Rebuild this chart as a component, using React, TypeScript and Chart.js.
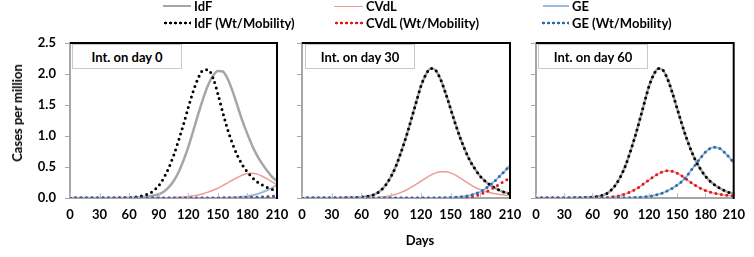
import React, { useEffect, useRef } from 'react';
import { Chart, registerables } from 'chart.js';

Chart.register(...registerables);

// ---------- data ----------
const days = [0, 5, 10, 15, 20, 25, 30, 35, 40, 45, 50, 55, 60, 65, 70, 75, 80, 85, 90, 95, 100, 105, 110, 115, 120, 125, 130, 135, 140, 145, 150, 155, 160, 165, 170, 175, 180, 185, 190, 195, 200, 205, 210];
const xTickValues = [0, 30, 60, 90, 120, 150, 180, 210];
const yTickValues = [0, 0.5, 1.0, 1.5, 2.0, 2.5];

const idfDay0 = [0, 0, 0, 0, 0, 0, 0, 0, 0.001, 0.001, 0.002, 0.002, 0.003, 0.006, 0.01, 0.015, 0.025, 0.04, 0.06, 0.1, 0.17, 0.27, 0.41, 0.6, 0.82, 1.08, 1.35, 1.6, 1.82, 1.97, 2.05, 2.04, 1.92, 1.72, 1.48, 1.24, 1.03, 0.84, 0.68, 0.55, 0.44, 0.34, 0.27];
const idfWtDay0 = [0, 0, 0, 0, 0, 0, 0, 0.001, 0.001, 0.002, 0.003, 0.005, 0.008, 0.014, 0.024, 0.04, 0.07, 0.12, 0.2, 0.32, 0.48, 0.68, 0.92, 1.18, 1.46, 1.72, 1.93, 2.06, 2.07, 1.94, 1.68, 1.38, 1.1, 0.87, 0.68, 0.53, 0.42, 0.33, 0.26, 0.21, 0.17, 0.14, 0.12];
const cvdlDay0 = [0, 0, 0, 0, 0, 0, 0, 0, 0, 0, 0, 0, 0, 0, 0, 0, 0.001, 0.002, 0.003, 0.004, 0.005, 0.008, 0.012, 0.018, 0.025, 0.035, 0.05, 0.07, 0.095, 0.125, 0.16, 0.2, 0.245, 0.29, 0.33, 0.37, 0.395, 0.4, 0.385, 0.35, 0.31, 0.26, 0.21];
const cvdlWtDay0 = [0, 0, 0, 0, 0, 0, 0, 0, 0, 0, 0, 0, 0, 0, 0, 0, 0, 0, 0, 0, 0, 0, 0, 0, 0, 0, 0, 0, 0, 0, 0.002, 0.003, 0.004, 0.005, 0.006, 0.008, 0.01, 0.012, 0.014, 0.017, 0.02, 0.025, 0.03];
const geDay0 = [0, 0, 0, 0, 0, 0, 0, 0, 0, 0, 0, 0, 0, 0, 0, 0, 0, 0, 0, 0, 0, 0, 0, 0, 0, 0, 0, 0, 0, 0, 0, 0.002, 0.004, 0.007, 0.012, 0.02, 0.03, 0.045, 0.065, 0.09, 0.125, 0.165, 0.21];
const geWtDay0 = [0, 0, 0, 0, 0, 0, 0, 0, 0, 0, 0, 0, 0, 0, 0, 0, 0, 0, 0, 0, 0, 0, 0, 0, 0, 0, 0, 0, 0, 0, 0, 0, 0, 0, 0, 0.003, 0.005, 0.007, 0.01, 0.014, 0.019, 0.026, 0.035];

const idfLater = [0, 0, 0, 0, 0, 0, 0.001, 0.001, 0.002, 0.003, 0.005, 0.008, 0.014, 0.024, 0.04, 0.07, 0.13, 0.22, 0.35, 0.52, 0.74, 0.98, 1.25, 1.53, 1.8, 1.99, 2.09, 2.06, 1.91, 1.69, 1.44, 1.19, 0.96, 0.76, 0.59, 0.46, 0.35, 0.27, 0.21, 0.16, 0.12, 0.09, 0.07];

const cvdlDay30 = [0, 0, 0, 0, 0, 0, 0, 0, 0, 0, 0, 0, 0, 0, 0.005, 0.009, 0.015, 0.025, 0.04, 0.062, 0.09, 0.125, 0.17, 0.22, 0.27, 0.32, 0.37, 0.405, 0.425, 0.425, 0.405, 0.37, 0.32, 0.265, 0.215, 0.17, 0.135, 0.105, 0.085, 0.068, 0.056, 0.046, 0.038];
const cvdlWtDay30 = [0, 0, 0, 0, 0, 0, 0, 0, 0, 0, 0, 0, 0, 0, 0, 0, 0, 0, 0, 0, 0, 0, 0, 0, 0, 0, 0, 0, 0, 0, 0.003, 0.004, 0.006, 0.01, 0.017, 0.032, 0.058, 0.093, 0.133, 0.178, 0.228, 0.278, 0.33];
const geDay30 = [0, 0, 0, 0, 0, 0, 0, 0, 0, 0, 0, 0, 0, 0, 0, 0, 0, 0, 0, 0, 0, 0, 0, 0, 0, 0, 0, 0, 0.003, 0.005, 0.008, 0.013, 0.02, 0.03, 0.045, 0.07, 0.1, 0.15, 0.21, 0.28, 0.36, 0.44, 0.53];

const cvdlDay60 = [0, 0, 0, 0, 0, 0, 0, 0, 0, 0, 0, 0, 0, 0, 0.005, 0.009, 0.016, 0.027, 0.043, 0.066, 0.096, 0.135, 0.18, 0.235, 0.29, 0.345, 0.39, 0.425, 0.44, 0.43, 0.4, 0.355, 0.3, 0.245, 0.195, 0.155, 0.12, 0.095, 0.075, 0.06, 0.048, 0.04, 0.033];
const geDay60 = [0, 0, 0, 0, 0, 0, 0, 0, 0, 0, 0, 0, 0, 0, 0, 0, 0.001, 0.002, 0.003, 0.004, 0.005, 0.008, 0.012, 0.018, 0.027, 0.04, 0.06, 0.085, 0.12, 0.16, 0.21, 0.27, 0.35, 0.45, 0.55, 0.65, 0.74, 0.8, 0.82, 0.8, 0.74, 0.66, 0.57];

const panelTitles = ['Int. on day 0', 'Int. on day 30', 'Int. on day 60'];
const seriesNames = ['IdF', 'IdF (Wt/Mobility)', 'CVdL', 'CVdL (Wt/Mobility)', 'GE', 'GE (Wt/Mobility)'];
const yAxisTitle = 'Cases per million';
const xAxisTitle = 'Days';

const panelSeries = [
  [idfDay0, idfWtDay0, cvdlDay0, cvdlWtDay0, geDay0, geWtDay0],
  [idfLater, idfLater, cvdlDay30, cvdlWtDay30, geDay30, geDay30],
  [idfLater, idfLater, cvdlDay60, cvdlDay60, geDay60, geDay60],
];

// ---------- styles ----------
const FONT = 'Lato, "Open Sans", sans-serif';
const seriesStyle = [
  { color: '#a6a6a6', width: 2.5, dotted: false, order: 5 },
  { color: '#000000', width: 3, dotted: true, order: 2 },
  { color: '#f09a9a', width: 1.5, dotted: false, order: 4 },
  { color: '#e01818', width: 3, dotted: true, order: 1 },
  { color: '#9dbadc', width: 2, dotted: false, order: 3 },
  { color: '#2f6aa8', width: 3, dotted: true, order: 0 },
];

const GEOM = [
  { padL: 0, axisW: 70, padR: 477, boxL: 72, boxW: 110 },
  { padL: 290, axisW: 12, padR: 244, boxL: 305, boxW: 110 },
  { padL: 524, axisW: 12, padR: 11, boxL: 538, boxW: 110 },
];

const framePlugin = {
  id: 'frame',
  afterDatasetsDraw(chart: any) {
    const { ctx, chartArea, scales } = chart;
    const { left, right, top, bottom } = chartArea;
    ctx.save();
    ctx.strokeStyle = '#c0c0c0';
    ctx.lineWidth = 1;
    scales.x.ticks.forEach((_t: any, i: number) => {
      const px = Math.round(scales.x.getPixelForTick(i)) + 0.5;
      ctx.beginPath();
      ctx.moveTo(px, bottom - 1);
      ctx.lineTo(px, bottom - 5);
      ctx.stroke();
    });
    ctx.strokeStyle = '#000';
    ctx.lineWidth = 2;
    ctx.beginPath();
    ctx.moveTo(left, top);
    ctx.lineTo(right, top);
    ctx.lineTo(right, bottom + 1);
    ctx.stroke();
    ctx.restore();
  },
};

function Panel({ idx }: { idx: number }) {
  const ref = useRef<HTMLCanvasElement>(null);
  useEffect(() => {
    const g = GEOM[idx];
    const tickFont = { family: FONT, weight: 'bold' as const, size: 13 };
    const datasets = panelSeries[idx].map((arr, k) => {
      const s = seriesStyle[k];
      return {
        label: seriesNames[k],
        data: days.map((d, i) => ({ x: d, y: arr[i] })),
        borderColor: s.color,
        backgroundColor: s.color,
        borderWidth: s.width,
        borderDash: s.dotted ? [0, 5.5] : [],
        borderCapStyle: s.dotted ? 'round' : 'butt',
        pointRadius: 0,
        fill: false,
        cubicInterpolationMode: 'monotone',
        order: s.order,
      };
    });
    const chart = new Chart(ref.current!, {
      type: 'line',
      data: { datasets } as any,
      options: {
        responsive: false,
        maintainAspectRatio: false,
        animation: false,
        devicePixelRatio: 1,
        layout: { padding: { left: g.padL, right: g.padR, top: 43, bottom: 0 } },
        plugins: { legend: { display: false }, tooltip: { enabled: false } },
        scales: {
          x: {
            type: 'linear',
            min: 0,
            max: 210,
            afterBuildTicks: (s: any) => { s.ticks = xTickValues.map((v) => ({ value: v })); },
            afterFit: (s: any) => { s.height = 59; },
            ticks: { font: tickFont, color: '#000', padding: 9, maxRotation: 0, autoSkip: false },
            grid: { display: true, drawOnChartArea: false, drawTicks: false },
            border: { color: '#a6a6a6', width: 2 },
          },
          y: {
            type: 'linear',
            min: 0,
            max: 2.5,
            afterBuildTicks: (s: any) => { s.ticks = yTickValues.map((v) => ({ value: v })); },
            afterFit: (s: any) => { s.width = g.axisW; },
            ticks: { display: idx === 0, font: tickFont, color: '#000', padding: 9, callback: (v: any) => Number(v).toFixed(1) },
            grid: { display: true, drawOnChartArea: false, drawTicks: true, tickLength: 5, color: '#a6a6a6', lineWidth: 1 },
            border: { color: '#a6a6a6', width: 2 },
          },
        },
      } as any,
      plugins: [framePlugin],
    });
    return () => chart.destroy();
  }, [idx]);
  return <canvas ref={ref} width={754} height={257} style={{ position: 'absolute', left: 0, top: 0 }} />;
}

const legendLayout = [
  { x: 163, y: 6, textX: 194 },
  { x: 163, y: 22.5, textX: 194 },
  { x: 334, y: 6, textX: 366 },
  { x: 334, y: 22.5, textX: 366 },
  { x: 543, y: 6, textX: 572 },
  { x: 541, y: 22.5, textX: 572 },
];

function Swatch({ k, w }: { k: number; w: number }) {
  const s = seriesStyle[k];
  if (s.dotted) {
    return (
      <div
        style={{
          width: w,
          height: 4,
          backgroundImage: `radial-gradient(circle, ${s.color} 1.2px, transparent 1.7px)`,
          backgroundSize: '5px 4px',
        }}
      />
    );
  }
  return <div style={{ width: w, height: 0, borderTop: `${s.width}px solid ${s.color}` }} />;
}

export default function App() {
  return (
    <div style={{ position: 'fixed', left: 0, top: 0, width: 754, height: 257, background: '#fff', overflow: 'hidden', fontFamily: FONT }}>
      {[0, 1, 2].map((i) => <Panel key={i} idx={i} />)}
      {seriesNames.map((name, k) => {
        const l = legendLayout[k];
        return (
          <React.Fragment key={name}>
            <div style={{ position: 'absolute', left: l.x, top: l.y - 2, width: l.textX - l.x - 3, height: 4, display: 'flex', alignItems: 'center' }}>
              <Swatch k={k} w={l.textX - l.x - 3} />
            </div>
            <div style={{ position: 'absolute', left: l.textX, top: l.y - 9, lineHeight: '18px', fontSize: 13, fontWeight: 'bold', color: '#000', whiteSpace: 'nowrap' }}>{name}</div>
          </React.Fragment>
        );
      })}
      {panelTitles.map((t, i) => (
        <div
          key={t}
          style={{
            position: 'absolute', left: GEOM[i].boxL, top: 44, width: GEOM[i].boxW, height: 25, boxSizing: 'border-box',
            border: '1px solid #c8c8c8', background: '#fff', display: 'flex', alignItems: 'center', justifyContent: 'center',
            fontSize: 13, fontWeight: 'bold', color: '#000', whiteSpace: 'nowrap',
          }}
        >
          {t}
        </div>
      ))}
      <div style={{ position: 'absolute', left: 16.5, top: 112.5, transform: 'translate(-50%, -50%) rotate(-90deg)', fontSize: 13, fontWeight: 'bold', whiteSpace: 'nowrap', color: '#000' }}>{yAxisTitle}</div>
      <div style={{ position: 'absolute', left: 420, top: 240, transform: 'translate(-50%, -50%)', fontSize: 13, fontWeight: 'bold', whiteSpace: 'nowrap', color: '#000' }}>{xAxisTitle}</div>
    </div>
  );
}
